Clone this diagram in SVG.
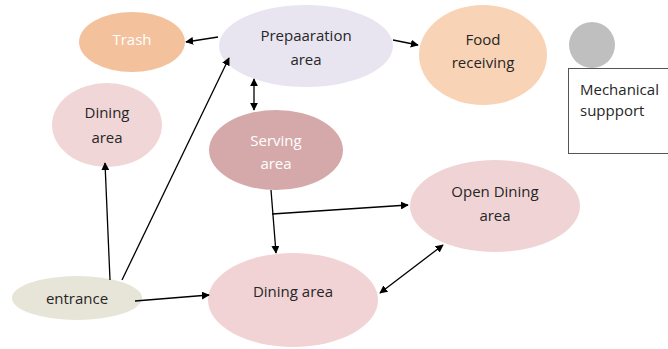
<svg xmlns="http://www.w3.org/2000/svg" width="668" height="349" viewBox="0 0 668 349">
  <style>
    text { font-family: "Open Sans", "Noto Sans", sans-serif; font-size: 15px; fill: #262626; text-anchor: middle; }
    text.light { fill: #ffffff; }
    .edge { stroke: #000; stroke-width: 1.3; fill: none; }
  </style>
  <defs>
    <marker id="arrow" viewBox="0 0 10 10" refX="9" refY="5" markerWidth="8" markerHeight="8" markerUnits="userSpaceOnUse" orient="auto-start-reverse">
      <path d="M0,0 L10,5 L0,10 z" fill="#000"/>
    </marker>
  </defs>
  <rect width="668" height="349" fill="#fff"/>

  <g id="trash">
    <ellipse cx="132" cy="42" rx="53" ry="30" fill="#f3c29d"/>
    <text class="light" x="132" y="45">Trash</text>
  </g>
  <g id="preparation">
    <ellipse cx="306" cy="46" rx="87" ry="41" fill="#e8e5f1"/>
    <text x="306" y="41">Prepaaration</text>
    <text x="306" y="65">area</text>
  </g>
  <g id="food-receiving">
    <ellipse cx="483" cy="55" rx="64" ry="50" fill="#f9d3b5"/>
    <text x="483" y="45">Food</text>
    <text x="483" y="68">receiving</text>
  </g>
  <g id="mechanical">
    <circle cx="592" cy="45" r="23" fill="#bfbfbf"/>
    <rect x="568.5" y="68.5" width="104" height="85" fill="#fff" stroke="#555" stroke-width="1"/>
    <text x="580" y="95" style="text-anchor:start">Mechanical</text>
    <text x="580" y="116" style="text-anchor:start">suppport</text>
  </g>
  <g id="dining-left">
    <ellipse cx="107" cy="125" rx="55" ry="42" fill="#f1d6d8"/>
    <text x="107" y="118">Dining</text>
    <text x="107" y="143">area</text>
  </g>
  <g id="serving">
    <ellipse cx="276" cy="150" rx="67" ry="40" fill="#d5a9aa"/>
    <text class="light" x="276" y="146">Serving</text>
    <text class="light" x="276" y="169">area</text>
  </g>
  <g id="open-dining">
    <ellipse cx="495" cy="206" rx="85" ry="46" fill="#f0d4d5"/>
    <text x="495" y="197">Open Dining</text>
    <text x="495" y="221">area</text>
  </g>
  <g id="entrance">
    <ellipse cx="77" cy="298" rx="65" ry="22" fill="#e6e5d7"/>
    <text x="77" y="304">entrance</text>
  </g>
  <g id="dining-bottom">
    <ellipse cx="293" cy="300" rx="85" ry="47" fill="#f1d3d5"/>
    <text x="293" y="297">Dining area</text>
  </g>

  <g id="connectors">
    <line class="edge" x1="218" y1="37" x2="186" y2="42" marker-end="url(#arrow)"/>
    <line class="edge" x1="393" y1="40" x2="418" y2="45" marker-end="url(#arrow)"/>
    <line class="edge" x1="254" y1="79" x2="254" y2="110" marker-start="url(#arrow)" marker-end="url(#arrow)"/>
    <line class="edge" x1="110" y1="280" x2="105" y2="163" marker-end="url(#arrow)"/>
    <line class="edge" x1="122" y1="280" x2="229" y2="58" marker-end="url(#arrow)"/>
    <line class="edge" x1="135" y1="301" x2="209" y2="295" marker-end="url(#arrow)"/>
    <line class="edge" x1="271" y1="190" x2="276" y2="253" marker-end="url(#arrow)"/>
    <line class="edge" x1="272" y1="214" x2="408" y2="205" marker-end="url(#arrow)"/>
    <line class="edge" x1="380" y1="293" x2="443" y2="245" marker-start="url(#arrow)" marker-end="url(#arrow)"/>
  </g>
</svg>
